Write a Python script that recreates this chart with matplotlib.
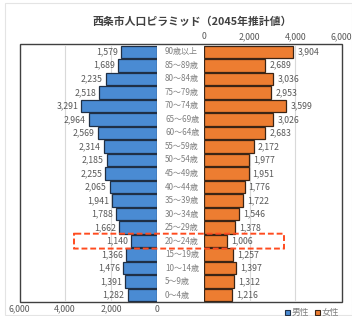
import matplotlib
matplotlib.use("Agg")
import matplotlib.pyplot as plt
from matplotlib.patches import Rectangle, FancyBboxPatch
from matplotlib.transforms import blended_transform_factory

plt.rcParams['font.family'] = ['Noto Sans CJK JP', 'DejaVu Sans']

age_groups = ["90歳以上", "85～89歳", "80～84歳", "75～79歳", "70～74歳", "65～69歳",
              "60～64歳", "55～59歳", "50～54歳", "45～49歳", "40～44歳", "35～39歳",
              "30～34歳", "25～29歳", "20～24歳", "15～19歳", "10～14歳", "5～9歳", "0～4歳"]
male = [1579, 1689, 2235, 2518, 3291, 2964, 2569, 2314, 2185, 2255,
        2065, 1941, 1788, 1662, 1140, 1366, 1476, 1391, 1282]
female = [3904, 2689, 3036, 2953, 3599, 3026, 2683, 2172, 1977, 1951,
          1776, 1722, 1546, 1378, 1006, 1257, 1397, 1312, 1216]
ticks = [0, 2000, 4000, 6000]
tick_labels = ["0", "2,000", "4,000", "6,000"]
title = "西条市人口ピラミッド（2045年推計値）"
highlight = "20～24歳"

W, H = 352, 316
fig = plt.figure(figsize=(W / 100, H / 100), dpi=100)

def fx(px):
    return px / W

def fy(py):
    return 1 - py / H

top, bot = 45, 302
axL = fig.add_axes([fx(19), fy(bot), fx(157) - fx(19), fy(top) - fy(bot)])
axR = fig.add_axes([fx(204), fy(bot), fx(341) - fx(204), fy(top) - fy(bot)])

blue = "#4a8bd3"
orange = "#ed7d31"
gray = "#595959"
n = len(age_groups)
ypos = list(range(n))

axL.barh(ypos, male, height=0.92, color=blue, edgecolor="#1f2f45", linewidth=0.9, zorder=3)
axR.barh(ypos, female, height=0.92, color=orange, edgecolor="#3a2415", linewidth=0.9, zorder=3)

for ax in (axL, axR):
    ax.set_ylim(n - 0.5, -0.5)
    ax.set_xlim(0, 6000)
    ax.set_yticks([])
    for s in ax.spines.values():
        s.set_visible(False)
    for g in (2000, 4000):
        ax.axvline(g, color="#d9d9d9", linewidth=0.8, zorder=1)
    ax.patch.set_alpha(0)

axL.invert_xaxis()
axL.set_xticks(ticks)
axL.set_xticklabels(tick_labels)
axL.tick_params(axis="x", length=0, labelsize=6.3, labelcolor=gray, pad=2)
axR.xaxis.tick_top()
axR.set_xticks(ticks)
axR.set_xticklabels(tick_labels)
axR.tick_params(axis="x", length=0, labelsize=6.3, labelcolor=gray, pad=3)

for i, v in enumerate(male):
    axL.text(v + 130, i, f"{v:,}", ha="right", va="center", fontsize=6.3, color=gray, zorder=4)
for i, v in enumerate(female):
    axR.text(v + 180, i, f"{v:,}", ha="left", va="center", fontsize=6.3, color=gray, zorder=4)

tr = blended_transform_factory(fig.transFigure, axR.transData)
for i, lab in enumerate(age_groups):
    fig.text(fx(165), 0, lab, transform=tr, ha="left", va="center", fontsize=5.8, color="#7f7f7f")
    fig.texts[-1].set_y(i)

# highlight box
hi = age_groups.index(highlight)
box = FancyBboxPatch((fx(74), hi - 0.55), fx(284) - fx(74), 1.1,
                     boxstyle="round,pad=0,rounding_size=0.004",
                     transform=tr, fill=False, edgecolor="#ff4b1f",
                     linewidth=1.4, linestyle=(0, (3, 1.5)), zorder=10, clip_on=False)
fig.add_artist(box)

# outer frame around plot area
fig.add_artist(Rectangle((fx(20), fy(302)), fx(342) - fx(20), fy(44) - fy(302),
                         transform=fig.transFigure, fill=False, edgecolor="#404040",
                         linewidth=1.0, zorder=0))
# faint outer chart border
fig.add_artist(Rectangle((fx(5), fy(315)), fx(352) - fx(5), fy(3) - fy(315),
                         transform=fig.transFigure, fill=False, edgecolor="#e4e4e4",
                         linewidth=0.8))

fig.text(fx(192), fy(22), title, ha="center", va="center", fontsize=7.8,
         fontweight="bold", color="#404040")

# legend
for x0, c, ec, lab in [(285, blue, "#1f2f45", "男性"), (315, orange, "#3a2415", "女性")]:
    fig.add_artist(Rectangle((fx(x0), fy(314.5)), fx(5) - fx(0), fy(309.5) - fy(314.5),
                             transform=fig.transFigure, facecolor=c, edgecolor=ec, linewidth=0.8))
    fig.text(fx(x0 + 7), fy(312), lab, ha="left", va="center", fontsize=6.3, color="#7f7f7f")

fig.savefig("out.png", dpi=100)
